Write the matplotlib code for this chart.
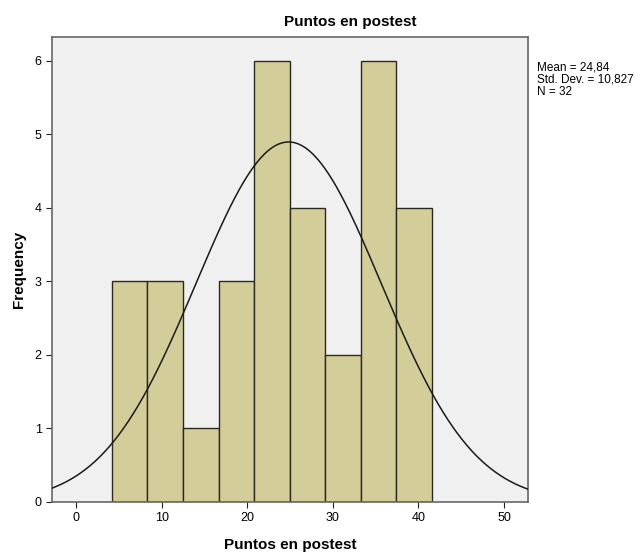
import numpy as np
import matplotlib
matplotlib.use('Agg')
import matplotlib.pyplot as plt

# histogram data
bin_edges = [4.2, 8.35, 12.5, 16.65, 20.8, 24.95, 29.1, 33.25, 37.4, 41.55]
counts = [3, 3, 1, 3, 6, 4, 2, 6, 4]
mean_val = 24.84
std_val = 10.827
n_val = 32
x_ticks = [0, 10, 20, 30, 40, 50]
y_ticks = [0, 1, 2, 3, 4, 5, 6]

plt.rcParams['font.family'] = ['Liberation Sans', 'DejaVu Sans']

fig = plt.figure(figsize=(6.44, 5.55), dpi=100)
ax = fig.add_axes([52 / 644, 53 / 555, 476 / 644, 465 / 555])
ax.set_facecolor('#F0F0F0')

widths = np.diff(bin_edges)
ax.bar(bin_edges[:-1], counts, width=widths, align='edge',
       color='#D3CE99', edgecolor='#2a2a20', linewidth=1.0, zorder=2)

# normal curve scaled to the histogram
bw = widths.mean()
xs = np.linspace(-2.8, 52.8, 400)
ys = n_val * bw / (std_val * np.sqrt(2 * np.pi)) * np.exp(-0.5 * ((xs - mean_val) / std_val) ** 2)
ax.plot(xs, ys, color='#1a1a1a', linewidth=1.1, zorder=3)

ax.set_xlim(-2.8, 52.8)
ax.set_ylim(0, 6.32)
ax.set_xticks(x_ticks)
ax.set_yticks(y_ticks)
ax.tick_params(axis='both', labelsize=9, length=4, color='#222222', direction='out')
for s in ax.spines.values():
    s.set_color('#666666')
    s.set_linewidth(1.2)

ax.set_xlabel('Puntos en postest', fontsize=11, fontweight='bold', labelpad=10)
ax.set_ylabel('Frequency', fontsize=11, fontweight='bold', labelpad=6)
fig.text(350 / 644, 1 - 22 / 555, 'Puntos en postest', fontsize=11, fontweight='bold',
         ha='center', va='center')

stats = f'Mean = 24,84\nStd. Dev. = 10,827\nN = {n_val}'
fig.text(537 / 644, 1 - 61 / 555, stats, fontsize=8.5, ha='left', va='top', linespacing=1.08)

fig.savefig('out.png', dpi=100, facecolor='white')
